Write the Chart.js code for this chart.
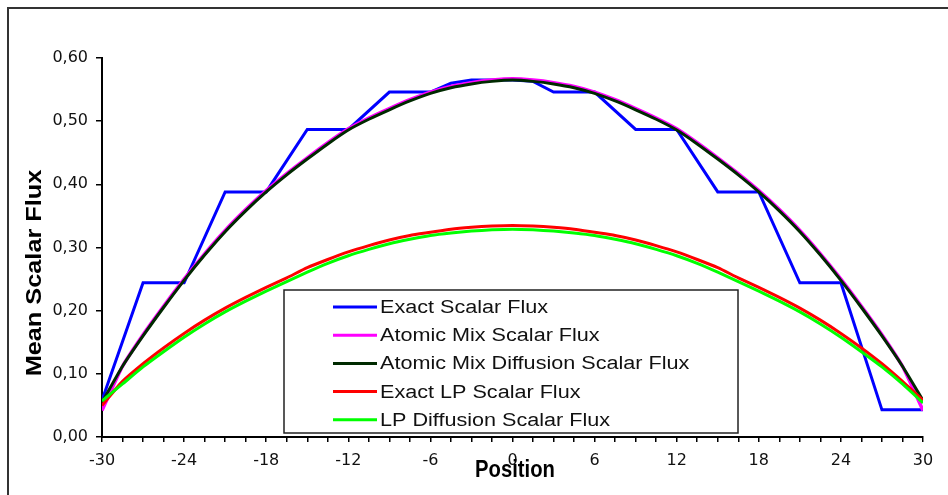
<!DOCTYPE html>
<html>
<head>
<meta charset="utf-8">
<script src="https://cdn.jsdelivr.net/npm/chart.js@4/dist/chart.umd.min.js"></script>
<style>
    html, body { margin: 0; padding: 0; background: #fff; }
    #wrap { width: 948px; height: 495px; position: relative; }
</style>
</head>
<body>
<div id="wrap"><canvas id="flux"></canvas></div>
<script>
// Posiciones para las curvas suaves (paso 1.5)
var positions = [-30, -28.5, -27, -25.5, -24, -22.5, -21, -19.5, -18, -16.5, -15, -13.5, -12, -10.5, -9, -7.5, -6, -4.5, -3, -1.5,
    0, 1.5, 3, 4.5, 6, 7.5, 9, 10.5, 12, 13.5, 15, 16.5, 18, 19.5, 21, 22.5, 24, 25.5, 27, 28.5, 30];

// Exact Scalar Flux (escalones)
var exactX = [-30, -27, -24, -21, -18, -15, -12, -9, -6, -4.5, -3, 0, 1.5, 3, 6, 9, 12, 15, 18, 21, 24, 27, 30];
var exactY = [0.058, 0.244, 0.244, 0.388, 0.388, 0.487, 0.487, 0.546, 0.546, 0.560, 0.565, 0.565, 0.563, 0.546, 0.546,
    0.487, 0.487, 0.388, 0.388, 0.244, 0.244, 0.043, 0.043];

var atomicMix = [0.042, 0.112, 0.162, 0.207, 0.250, 0.290, 0.327, 0.360, 0.390, 0.417, 0.442, 0.466, 0.488, 0.505, 0.520,
    0.534, 0.546, 0.555, 0.561, 0.565, 0.567, 0.565, 0.561, 0.555, 0.546, 0.534, 0.520, 0.505, 0.488, 0.466, 0.442,
    0.417, 0.390, 0.360, 0.327, 0.290, 0.250, 0.207, 0.162, 0.112, 0.042];

var atomicMixDiffusion = [0.055, 0.112, 0.160, 0.205, 0.248, 0.288, 0.325, 0.358, 0.388, 0.415, 0.440, 0.464, 0.486, 0.503, 0.518,
    0.532, 0.544, 0.553, 0.559, 0.563, 0.565, 0.563, 0.559, 0.553, 0.544, 0.532, 0.518, 0.503, 0.486, 0.464, 0.440,
    0.415, 0.388, 0.358, 0.325, 0.288, 0.248, 0.205, 0.160, 0.112, 0.058];

var exactLP = [0.050, 0.088, 0.116, 0.141, 0.164, 0.185, 0.204, 0.221, 0.237, 0.252, 0.268, 0.281, 0.293, 0.303, 0.312,
    0.319, 0.324, 0.329, 0.332, 0.334, 0.335, 0.334, 0.332, 0.329, 0.324, 0.319, 0.312, 0.303, 0.293, 0.281, 0.268,
    0.252, 0.237, 0.221, 0.204, 0.185, 0.164, 0.141, 0.116, 0.088, 0.058];

var lpDiffusion = [0.057, 0.084, 0.111, 0.135, 0.158, 0.179, 0.198, 0.215, 0.231, 0.246, 0.261, 0.275, 0.287, 0.297, 0.306,
    0.313, 0.319, 0.323, 0.326, 0.328, 0.329, 0.328, 0.326, 0.323, 0.319, 0.313, 0.306, 0.297, 0.287, 0.275, 0.261,
    0.246, 0.231, 0.215, 0.198, 0.179, 0.158, 0.135, 0.111, 0.084, 0.054];

var seriesLabels = ['Exact Scalar Flux', 'Atomic Mix Scalar Flux', 'Atomic Mix Diffusion Scalar Flux',
    'Exact LP Scalar Flux', 'LP Diffusion Scalar Flux'];
var seriesColors = ['#0000ff', '#ff00ff', '#002a00', '#ff0000', '#00ff00'];

function toPoints(xs, ys) {
    return xs.map(function (x, i) { return { x: x, y: ys[i] }; });
}

// Marco recortado, titulos de ejes y leyenda dentro del grafico
var decorations = {
    id: 'decorations',
    afterDraw: function (chart) {
        var ctx = chart.ctx;
        ctx.save();

        ctx.strokeStyle = '#333';
        ctx.lineWidth = 2;
        ctx.beginPath();
        ctx.moveTo(8, 495);
        ctx.lineTo(8, 8);
        ctx.lineTo(948, 8);
        ctx.stroke();

        ctx.fillStyle = '#000';
        ctx.font = 'bold 22px "Liberation Sans", Arial, sans-serif';
        ctx.textAlign = 'center';
        ctx.textBaseline = 'alphabetic';

        ctx.save();
        ctx.translate(515, 477);
        ctx.scale(0.92, 1.05);
        ctx.fillText('Position', 0, 0);
        ctx.restore();

        ctx.save();
        ctx.translate(41, 273);
        ctx.rotate(-Math.PI / 2);
        ctx.scale(1.15, 1);
        ctx.fillText('Mean Scalar Flux', 0, 0);
        ctx.restore();

        // leyenda
        var box = { left: 284, top: 290, right: 738, bottom: 433 };
        ctx.fillStyle = '#fff';
        ctx.fillRect(box.left, box.top, box.right - box.left, box.bottom - box.top);
        ctx.strokeStyle = '#222';
        ctx.lineWidth = 1.5;
        ctx.strokeRect(box.left, box.top, box.right - box.left, box.bottom - box.top);

        ctx.font = '18px "Liberation Sans", Arial, sans-serif';
        ctx.textAlign = 'left';
        ctx.textBaseline = 'middle';
        chart.data.datasets.forEach(function (ds, i) {
            var y = 307 + i * 28.2;
            ctx.strokeStyle = ds.borderColor;
            ctx.lineWidth = 3;
            ctx.beginPath();
            ctx.moveTo(333, y);
            ctx.lineTo(377, y);
            ctx.stroke();
            ctx.save();
            ctx.translate(380, y + 1);
            ctx.scale(1.2, 1);
            ctx.fillStyle = '#111';
            ctx.fillText(ds.label, 0, 0);
            ctx.restore();
        });

        ctx.restore();
    }
};

var datasets = [
    { label: seriesLabels[0], data: toPoints(exactX, exactY), order: 5 },
    { label: seriesLabels[1], data: toPoints(positions, atomicMix), order: 4, borderWidth: 3.5 },
    { label: seriesLabels[2], data: toPoints(positions, atomicMixDiffusion), order: 3 },
    { label: seriesLabels[3], data: toPoints(positions, exactLP), order: 2 },
    { label: seriesLabels[4], data: toPoints(positions, lpDiffusion), order: 1 }
];
datasets.forEach(function (ds, i) {
    ds.borderColor = seriesColors[i];
    ds.backgroundColor = seriesColors[i];
    ds.borderWidth = ds.borderWidth || 3;
    ds.pointRadius = 0;
    ds.fill = false;
    ds.tension = i === 0 ? 0 : 0.2;
});

var tickFont = { family: '"DejaVu Sans", sans-serif', size: 16 };

new Chart(document.getElementById('flux').getContext('2d'), {
    type: 'line',
    data: { datasets: datasets },
    options: {
        responsive: true,
        maintainAspectRatio: false,
        animation: false,
        layout: { padding: { left: 0, top: 58, right: 25, bottom: 0 } },
        plugins: { legend: { display: false }, tooltip: { enabled: false } },
        scales: {
            x: {
                type: 'linear',
                min: -30,
                max: 30,
                afterFit: function (s) { s.height = 58; },
                border: { display: true, color: '#000', width: 2 },
                grid: { drawOnChartArea: false, drawTicks: true, tickLength: 5, color: '#000', lineWidth: 1.5 },
                ticks: {
                    stepSize: 1.5,
                    autoSkip: false,
                    maxRotation: 0,
                    padding: 9,
                    color: '#111',
                    font: tickFont,
                    callback: function (v) { return v % 6 === 0 ? String(v) : ''; }
                }
            },
            y: {
                min: 0,
                max: 0.6,
                afterFit: function (s) { s.width = 102; },
                border: { display: true, color: '#000', width: 2 },
                grid: { drawOnChartArea: false, drawTicks: true, tickLength: 6, color: '#000', lineWidth: 1.5 },
                ticks: {
                    stepSize: 0.1,
                    padding: 8,
                    color: '#111',
                    font: tickFont,
                    callback: function (v) { return v.toFixed(2).replace('.', ','); }
                }
            }
        }
    },
    plugins: [decorations]
});
</script>
</body>
</html>
